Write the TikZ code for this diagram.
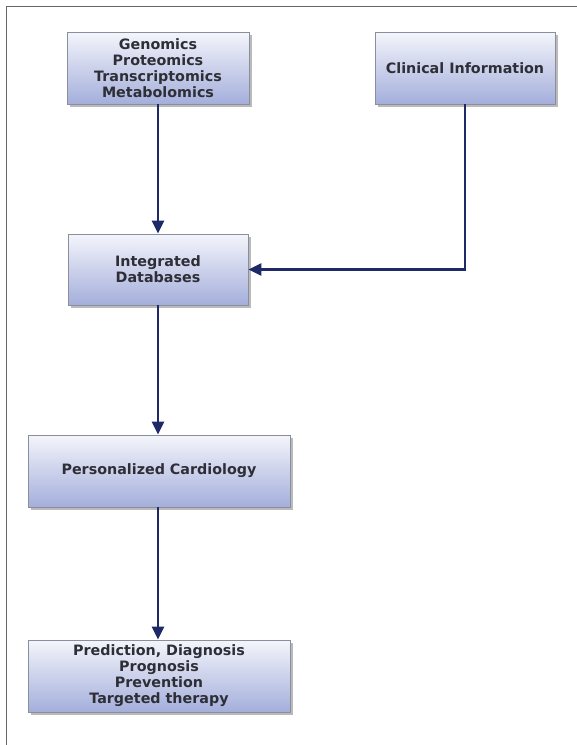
\documentclass[tikz,border=0pt]{standalone}
\usepackage{fontspec}
\setmainfont{DejaVu Sans}
\usetikzlibrary{arrows.meta,shadows}
\definecolor{boxtop}{HTML}{F4F5FB}
\definecolor{boxbot}{HTML}{A4AEDB}
\definecolor{boxline}{HTML}{8A8F9C}
\definecolor{arrowc}{HTML}{1E2A68}
\definecolor{txt}{HTML}{2E2E36}
\tikzset{
  box/.style={draw=boxline, line width=0.8pt, top color=boxtop, bottom color=boxbot,
    align=center, font=\bfseries\fontsize{14.3}{16}\selectfont, text=txt, inner sep=0pt,
    drop shadow={shadow xshift=2.5pt, shadow yshift=-2.5pt, fill=black!45, opacity=0.6}},
  conn/.style={draw=arrowc, line width=2.4pt, -{Triangle[length=13pt,width=12pt]}}
}
\begin{document}
\begin{tikzpicture}[x=1pt,y=-1pt]
\useasboundingbox (0,0) rectangle (577,745);
\draw[gray!80!black, line width=1pt] (6.5,745) -- (6.5,6.5) -- (577,6.5);
\node[box, minimum width=182pt, minimum height=72pt] (omics) at (158,68) {Genomics\\Proteomics\\Transcriptomics\\Metabolomics};
\node[box, minimum width=180pt, minimum height=72pt] (clin) at (465,68) {Clinical Information};
\node[box, minimum width=180pt, minimum height=71pt] (db) at (158,269.5) {Integrated\\Databases};
\node[box, minimum width=262pt, minimum height=72pt] (pc) at (159,471) {Personalized Cardiology};
\node[box, minimum width=262pt, minimum height=72pt] (out) at (159,676) {Prediction, Diagnosis\\Prognosis\\Prevention\\Targeted therapy};
\draw[conn] (omics.south) -- (db.north);
\draw[conn] (clin.south) |- (db.east);
\draw[conn] (db.south) -- (db.south |- pc.north);
\draw[conn] (db.south |- pc.south) -- (db.south |- out.north);
\end{tikzpicture}
\end{document}
